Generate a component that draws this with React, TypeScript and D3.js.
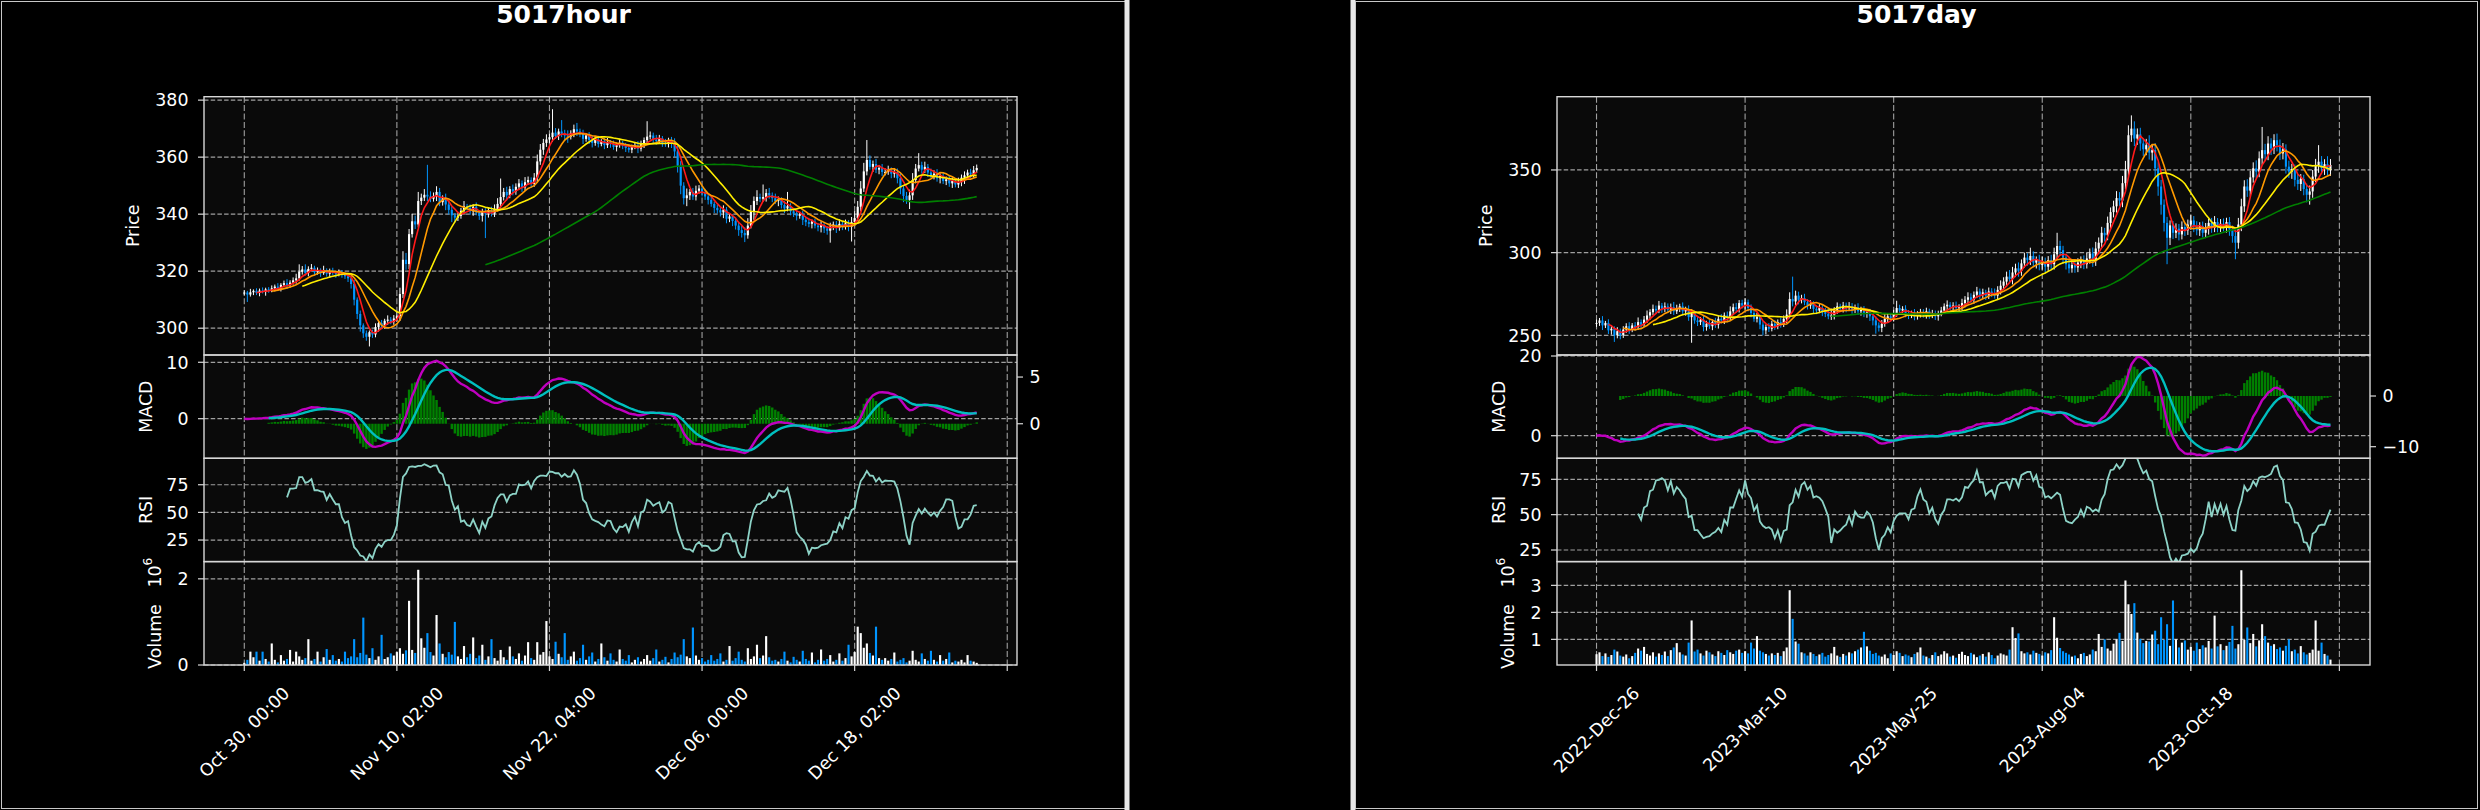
import React from 'react';
import * as d3 from 'd3';

// ---- hourly chart data (values in price units, volume in millions) ----
const hourClose = [
  312.5, 311.8, 312.6, 313.1, 312.4, 313.2, 312.8, 313.6, 313.3, 314.0,
  314.6, 313.9, 315.2, 315.8, 315.1, 316.0, 316.8, 317.5, 319.8, 320.6,
  319.4, 320.8, 321.2, 319.6, 320.2, 319.3, 320.4, 319.1, 320.0, 319.4,
  318.9, 319.6, 318.7, 318.2, 317.5, 315.5, 310.0, 305.0, 301.0, 298.2,
  297.0, 298.6, 297.8, 300.4, 301.8, 301.0, 302.6, 303.0, 302.2, 303.4,
  304.2, 312.0, 324.0, 322.5, 333.0, 337.5, 336.4, 344.6, 345.8, 346.8,
  346.2, 345.4, 346.4, 347.8, 344.2, 345.6, 343.4, 341.5, 339.6, 338.8,
  339.4, 341.2, 342.8, 342.2, 341.0, 342.6, 340.6, 339.4, 340.8, 340.2,
  341.4, 340.2, 341.8, 343.6, 346.0, 347.8, 346.6, 348.8, 348.0, 349.6,
  350.8, 349.4, 351.2, 352.0, 350.6, 352.8, 358.5, 362.6, 365.0, 366.2,
  367.0, 368.6, 367.4, 369.0, 368.2, 367.6, 367.2, 368.4, 369.8, 369.0,
  368.2, 366.4, 367.6, 366.0, 365.0, 366.2, 364.6, 365.6, 364.2, 365.2,
  364.6, 363.6, 364.2, 365.0, 364.0, 363.2, 362.6, 363.6, 364.0, 363.0,
  364.6, 366.0, 367.2, 367.6, 366.2, 365.6, 366.6, 365.0, 364.6, 365.8,
  364.8, 362.0, 357.0, 350.0, 345.6, 346.6, 347.8, 346.2, 348.2, 349.0,
  347.6, 346.2, 345.0, 343.6, 342.2, 341.4, 340.6, 341.6, 338.4, 339.2,
  337.6, 336.0, 334.4, 333.4, 332.6, 336.0, 341.0, 344.6, 346.0, 345.4,
  346.0, 347.4, 346.6, 345.6, 344.6, 345.0, 343.2, 342.0, 342.8, 341.0,
  340.2, 339.4, 340.0, 338.0, 337.2, 336.6, 337.4, 336.0, 335.4, 336.2,
  335.0, 334.2, 335.6, 336.4, 335.2, 336.6, 335.8, 336.8, 335.6, 337.2,
  338.6, 342.6, 349.0, 355.0, 359.0, 356.6, 357.6, 355.6, 356.2, 354.8,
  354.8, 355.4, 354.2, 354.8, 352.6, 349.0, 346.4, 345.0, 346.6, 352.0,
  356.0, 357.2, 355.6, 356.6, 354.6, 353.6, 354.2, 352.6, 353.4, 351.6,
  352.2, 350.8, 351.6, 350.4, 351.2, 352.8, 353.6, 354.6, 354.0, 355.4, 356.2,
];
const hourUpWick = [
  0.8, 0.6, 1.2, 0.5, 0.9, 0.7, 1.1, 0.6, 0.8, 1.0,
  0.7, 1.2, 0.6, 0.9, 1.4, 0.8, 1.0, 1.6, 2.6, 1.2,
  1.8, 0.9, 1.3, 0.7, 1.1, 0.8, 1.5, 0.6, 0.9, 1.2,
  0.7, 1.0, 0.8, 0.6, 1.1, 0.9, 1.4, 0.8, 1.2, 0.7,
  1.0, 0.6, 0.9, 1.3, 0.8, 1.1, 0.7, 1.5, 0.9, 1.2,
  1.6, 2.2, 3.0, 2.4, 1.8, 2.6, 2.0, 3.2, 1.4, 2.0,
  10.5, 1.8, 1.2, 2.0, 1.4, 1.0, 1.6, 0.9, 1.2, 0.8,
  1.4, 1.0, 1.8, 0.8, 1.2, 0.9, 1.5, 0.7, 1.1, 1.3,
  0.9, 1.2, 1.6, 2.0, 6.5, 1.4, 1.8, 1.0, 1.6, 1.2,
  1.5, 1.0, 1.8, 1.2, 0.9, 1.6, 2.4, 2.0, 1.4, 1.8,
  1.2, 8.2, 1.6, 1.0, 4.0, 1.4, 1.8, 1.0, 1.6, 2.2,
  1.0, 1.4, 0.8, 1.2, 1.6, 0.9, 1.3, 0.7, 1.1, 1.5,
  0.8, 1.2, 0.9, 1.4, 0.7, 1.0, 1.3, 0.8, 1.1, 1.6,
  1.2, 0.9, 5.4, 1.4, 1.0, 1.6, 1.2, 0.8, 1.4, 1.0,
  1.3, 1.8, 2.0, 1.6, 1.2, 2.4, 1.0, 1.4, 1.8, 1.2,
  0.9, 1.3, 1.0, 1.6, 0.8, 1.2, 1.0, 1.5, 0.9, 1.1,
  0.8, 1.2, 1.0, 1.4, 2.0, 2.6, 2.2, 1.6, 2.4, 1.2,
  4.4, 1.4, 1.8, 1.0, 1.6, 1.2, 0.9, 1.4, 5.0, 1.0,
  0.9, 1.3, 0.8, 1.2, 1.0, 1.5, 0.7, 1.1, 0.9, 1.3,
  1.0, 0.8, 1.4, 1.0, 1.2, 1.6, 0.9, 1.3, 1.1, 1.8,
  2.4, 2.0, 2.6, 3.0, 7.0, 1.6, 1.2, 1.8, 1.0, 1.4,
  1.2, 1.6, 1.0, 1.4, 1.2, 1.8, 1.0, 1.4, 2.0, 2.4,
  1.6, 4.2, 1.2, 1.8, 1.0, 1.4, 1.2, 1.6, 0.9, 1.3,
  1.0, 1.4, 1.2, 0.8, 1.6, 1.1, 1.4, 1.0, 1.3, 1.5, 1.2,
];
const hourDownWick = [
  0.9, 2.6, 0.7, 1.0, 0.8, 1.2, 0.6, 1.4, 0.9, 0.7,
  1.1, 0.8, 1.0, 0.6, 1.3, 0.9, 0.7, 1.2, 0.8, 1.0,
  0.9, 1.2, 0.7, 1.1, 0.8, 1.3, 0.6, 1.0, 1.4, 0.8,
  1.2, 0.7, 1.0, 0.9, 1.3, 1.6, 2.0, 1.8, 2.2, 1.6,
  1.4, 3.4, 1.2, 1.0, 1.6, 0.9, 1.2, 1.4, 0.8, 1.0,
  1.2, 1.6, 1.4, 2.0, 1.8, 1.2, 1.6, 1.0, 1.4, 1.2,
  1.6, 1.2, 1.0, 1.8, 1.4, 1.2, 2.0, 1.6, 2.4, 1.8,
  1.2, 1.0, 1.4, 0.9, 1.2, 1.6, 1.0, 1.4, 2.0, 8.6,
  1.4, 1.0, 1.2, 0.8, 1.6, 1.2, 1.8, 1.0, 1.4, 1.2,
  1.0, 1.6, 1.2, 0.9, 1.4, 1.0, 1.6, 1.2, 1.8, 1.4,
  1.2, 1.6, 1.0, 1.4, 1.2, 1.8, 2.2, 1.0, 1.4, 1.6,
  1.2, 1.8, 1.0, 1.4, 1.6, 1.0, 1.2, 0.8, 1.4, 1.0,
  1.3, 1.0, 1.6, 0.9, 1.2, 1.4, 1.0, 1.2, 0.8, 1.6,
  1.0, 1.4, 1.2, 1.0, 1.6, 1.2, 0.9, 1.4, 1.0, 1.2,
  1.6, 2.0, 2.4, 3.0, 2.2, 2.8, 1.6, 1.2, 1.4, 1.0,
  1.4, 1.2, 1.6, 1.0, 1.8, 1.2, 1.4, 2.0, 1.6, 1.2,
  1.8, 1.4, 2.0, 1.6, 2.4, 1.2, 1.0, 3.0, 1.4, 1.2,
  1.0, 1.6, 1.2, 1.4, 1.0, 1.8, 1.2, 1.6, 1.0, 1.4,
  1.2, 1.6, 1.0, 1.8, 1.4, 1.2, 1.6, 1.0, 1.4, 1.8,
  1.6, 1.4, 4.2, 1.2, 1.8, 1.0, 1.4, 1.2, 1.6, 5.2,
  1.4, 1.0, 1.6, 1.2, 1.4, 1.0, 1.8, 1.2, 1.6, 1.4,
  1.2, 1.0, 1.6, 1.4, 1.8, 2.0, 2.2, 1.4, 3.2, 1.6,
  1.2, 1.0, 1.4, 1.2, 1.6, 1.0, 1.4, 1.2, 1.8, 1.0,
  1.4, 1.2, 1.6, 1.0, 1.2, 1.4, 2.2, 1.0, 1.4, 1.2, 1.0,
];
const hourVolume = [
  0.05, 0.12, 0.31, 0.18, 0.31, 0.10, 0.31, 0.14, 0.08, 0.50,
  0.12, 0.06, 0.23, 0.10, 0.14, 0.35, 0.08, 0.31, 0.20, 0.12,
  0.16, 0.60, 0.10, 0.14, 0.31, 0.08, 0.18, 0.37, 0.12, 0.23,
  0.10, 0.14, 0.08, 0.31, 0.16, 0.20, 0.60, 0.18, 0.28, 1.10,
  0.24, 0.16, 0.39, 0.12, 0.20, 0.70, 0.14, 0.18, 0.27, 0.22,
  0.30, 0.39, 0.26, 0.34, 1.49, 0.35, 0.28, 2.21, 0.62, 0.40,
  0.74, 0.30, 0.22, 1.16, 0.50, 0.26, 0.18, 0.30, 0.24, 1.00,
  0.20, 0.14, 0.44, 0.18, 0.26, 0.64, 0.16, 0.22, 0.47, 0.12,
  0.20, 0.60, 0.16, 0.10, 0.35, 0.18, 0.12, 0.43, 0.20, 0.14,
  0.27, 0.10, 0.22, 0.53, 0.16, 0.12, 0.53, 0.24, 0.30, 1.02,
  0.20, 0.14, 0.54, 0.26, 0.18, 0.74, 0.12, 0.20, 0.31, 0.10,
  0.16, 0.47, 0.12, 0.20, 0.29, 0.08, 0.14, 0.50, 0.18, 0.10,
  0.27, 0.12, 0.08, 0.36, 0.14, 0.10, 0.23, 0.06, 0.12, 0.18,
  0.08, 0.14, 0.23, 0.10, 0.16, 0.36, 0.08, 0.12, 0.19, 0.06,
  0.14, 0.29, 0.18, 0.24, 0.60, 0.20, 0.16, 0.87, 0.22, 0.12,
  0.16, 0.08, 0.12, 0.23, 0.10, 0.14, 0.27, 0.08, 0.12, 0.44,
  0.10, 0.16, 0.31, 0.12, 0.08, 0.39, 0.14, 0.20, 0.47, 0.16,
  0.22, 0.67, 0.18, 0.10, 0.12, 0.08, 0.14, 0.31, 0.10, 0.06,
  0.19, 0.12, 0.08, 0.33, 0.14, 0.10, 0.29, 0.06, 0.12, 0.36,
  0.10, 0.14, 0.23, 0.08, 0.12, 0.27, 0.10, 0.16, 0.47, 0.20,
  0.30, 0.89, 0.74, 0.40, 0.50, 0.28, 0.22, 0.89, 0.16, 0.12,
  0.16, 0.10, 0.14, 0.29, 0.08, 0.12, 0.16, 0.06, 0.10, 0.33,
  0.12, 0.08, 0.27, 0.14, 0.10, 0.33, 0.12, 0.08, 0.23, 0.10,
  0.14, 0.29, 0.06, 0.10, 0.08, 0.12, 0.06, 0.23, 0.10, 0.08, 0.05,
];
const hourTickLabels = ['Oct 30, 00:00', 'Nov 10, 02:00', 'Nov 22, 04:00', 'Dec 06, 00:00', 'Dec 18, 02:00', ''];

// ---- daily chart data ----
const dayClose = [
  257.5, 259.0, 256.0, 257.5, 253.0, 254.0, 250.0, 252.5, 250.0, 253.5,
  255.5, 253.5, 256.0, 255.0, 258.0, 256.5, 259.5, 262.0, 264.0, 266.0,
  265.0, 268.0, 266.0, 267.5, 265.5, 267.0, 264.5, 266.5, 267.5, 264.5,
  265.5, 261.0, 263.5, 259.0, 258.0, 259.5, 255.0, 257.0, 255.5, 258.0,
  256.5, 260.0, 259.0, 262.0, 260.5, 264.5, 267.0, 266.0, 269.5, 268.0,
  270.0, 266.5, 263.5, 260.0, 261.0, 256.5, 253.0, 255.0, 254.0, 257.0,
  255.5, 258.0, 257.0, 260.0, 262.5, 272.0, 270.5, 274.0, 271.5, 272.5,
  270.0, 268.0, 269.0, 266.0, 265.0, 266.5, 264.0, 263.0, 261.5, 262.0,
  265.0, 267.5, 266.0, 268.0, 266.5, 267.5, 265.5, 267.0, 264.5, 265.5,
  263.0, 264.0, 261.5, 259.0, 256.0, 254.5, 257.0, 260.0, 261.5, 260.5,
  263.0, 266.5, 265.0, 266.0, 263.5, 262.0, 263.5, 261.5, 263.0, 264.0,
  262.5, 264.5, 262.0, 263.0, 261.5, 263.5, 265.0, 267.5, 268.5, 267.0,
  268.0, 266.5, 267.0, 269.5, 271.5, 273.0, 271.5, 274.5, 276.5, 274.5,
  276.0, 274.0, 276.5, 275.5, 274.0, 277.5, 280.0, 282.5, 285.5, 284.0,
  288.0, 290.5, 289.0, 293.5, 297.0, 295.5, 298.0, 294.0, 295.5, 292.5,
  294.0, 291.5, 295.5, 293.0, 299.0, 304.0, 301.5, 297.0, 293.0, 290.5,
  292.5, 291.0, 294.0, 295.5, 293.0, 296.5, 299.5, 295.0, 302.5, 306.0,
  312.0, 310.5, 318.0, 324.5, 328.0, 333.0, 331.5, 342.0, 350.5, 371.0,
  375.0, 369.0, 371.5, 366.0, 362.5, 365.0, 360.5, 362.0, 351.0, 340.0,
  329.0, 318.0, 309.0, 316.5, 312.0, 314.5, 311.0, 315.5, 313.5, 317.0,
  319.5, 316.0, 313.5, 316.0, 312.0, 314.5, 318.0, 315.0, 318.5, 315.5,
  317.5, 315.5, 318.5, 314.0, 310.0, 306.0, 317.0, 328.0, 340.0, 337.5,
  345.5, 351.0, 349.0, 357.0, 362.0, 359.5, 366.0, 363.0, 368.0, 365.0,
  360.0, 362.5, 352.0, 349.0, 350.5, 344.0, 341.5, 344.5, 338.5, 335.0,
  337.0, 346.0, 352.5, 355.0, 351.0, 353.5, 350.0, 353.0,
];
const dayUpWick = [
  2.0, 1.5, 2.6, 1.2, 2.2, 1.8, 1.4, 2.4, 1.6, 2.0,
  1.8, 2.4, 1.4, 2.0, 2.8, 1.6, 2.2, 3.0, 1.8, 2.6,
  2.0, 2.8, 1.6, 2.4, 1.8, 2.2, 3.2, 2.0, 1.6, 2.4,
  1.8, 2.6, 2.2, 1.4, 2.0, 1.6, 2.4, 1.8, 2.2, 1.6,
  2.6, 2.0, 2.8, 1.8, 2.4, 3.0, 2.2, 2.6, 1.8, 2.0,
  2.4, 1.6, 2.2, 1.8, 2.6, 1.4, 2.0, 1.6, 2.4, 1.8,
  2.2, 1.6, 2.8, 2.0, 3.2, 4.0, 13.5, 3.0, 2.4, 2.0,
  2.6, 1.8, 2.2, 1.6, 2.0, 2.4, 1.8, 2.6, 3.0, 4.2,
  2.0, 2.4, 1.6, 2.2, 1.8, 2.6, 2.0, 1.6, 2.4, 1.8,
  2.2, 1.6, 2.0, 1.4, 2.4, 1.8, 2.2, 2.6, 1.8, 2.0,
  2.4, 4.4, 2.0, 1.6, 2.2, 1.8, 1.4, 2.4, 1.6, 2.0,
  1.8, 2.2, 1.6, 2.4, 2.0, 1.4, 2.2, 1.8, 2.6, 1.6,
  2.0, 2.4, 1.8, 2.6, 2.2, 3.0, 2.4, 2.0, 2.8, 1.8,
  2.2, 1.6, 2.4, 2.0, 2.8, 2.2, 3.2, 2.6, 3.0, 4.0,
  3.4, 2.8, 3.6, 2.4, 3.0, 2.6, 5.0, 2.8, 2.2, 3.2,
  3.6, 3.0, 2.4, 3.2, 4.0, 8.0, 3.2, 2.6, 2.2, 2.8,
  2.4, 3.0, 2.6, 2.2, 2.8, 3.4, 3.0, 3.6, 4.0, 3.2,
  3.6, 3.0, 3.8, 2.8, 3.4, 4.2, 3.6, 4.4, 5.0, 6.0,
  8.0, 4.4, 3.6, 4.0, 3.2, 3.8, 6.0, 3.4, 4.2, 3.6,
  4.0, 3.2, 3.6, 3.0, 2.6, 3.2, 2.8, 3.4, 2.4, 3.0,
  3.2, 2.6, 3.0, 2.4, 2.8, 3.4, 2.6, 3.0, 3.6, 2.4,
  2.8, 3.2, 2.6, 3.0, 2.4, 3.6, 4.0, 4.6, 3.8, 4.4,
  4.0, 3.6, 4.8, 4.2, 14.0, 3.8, 4.4, 3.2, 3.6, 4.0,
  3.4, 3.8, 3.0, 3.6, 3.2, 2.8, 3.4, 3.0, 2.6, 3.2,
  3.6, 4.0, 4.2, 10.0, 3.4, 3.0, 4.8, 3.6,
];
const dayDownWick = [
  2.4, 1.8, 2.8, 1.6, 2.2, 2.6, 4.0, 1.8, 2.4, 1.6,
  2.0, 2.6, 1.6, 2.2, 1.8, 2.4, 1.4, 2.0, 2.6, 1.8,
  2.2, 1.6, 2.4, 2.0, 1.8, 2.6, 2.2, 1.6, 2.4, 2.0,
  2.6, 2.2, 15.5, 2.0, 2.4, 1.8, 2.6, 2.2, 1.6, 2.4,
  2.0, 2.4, 1.8, 2.2, 2.6, 1.6, 2.0, 2.4, 2.2, 1.8,
  2.4, 2.0, 2.6, 1.8, 2.2, 2.8, 3.0, 2.4, 2.0, 1.6,
  2.2, 1.8, 2.4, 2.0, 2.6, 2.2, 3.0, 2.4, 2.8, 2.2,
  1.8, 2.4, 2.0, 2.6, 2.2, 1.6, 2.4, 2.0, 1.8, 2.2,
  2.4, 2.0, 1.6, 2.2, 2.6, 1.8, 2.4, 2.0, 2.2, 2.6,
  2.0, 2.4, 2.8, 3.0, 5.0, 2.2, 2.6, 1.8, 2.4, 2.0,
  2.2, 1.8, 2.4, 2.0, 2.6, 2.2, 1.6, 2.4, 2.0, 2.2,
  1.8, 2.4, 2.0, 1.6, 2.2, 2.6, 2.0, 1.8, 2.4, 2.0,
  2.2, 1.8, 2.4, 2.0, 2.6, 2.2, 1.8, 2.4, 2.0, 2.6,
  2.2, 2.6, 2.0, 2.4, 1.8, 2.2, 2.8, 2.4, 3.0, 2.6,
  3.2, 2.8, 3.6, 3.0, 2.6, 3.4, 3.0, 2.8, 3.6, 3.2,
  2.8, 3.4, 3.0, 3.6, 3.2, 2.8, 3.4, 3.8, 3.2, 3.0,
  2.6, 3.2, 2.8, 3.4, 3.0, 2.6, 3.2, 3.6, 3.0, 3.4,
  3.2, 3.8, 3.0, 3.6, 3.2, 3.8, 3.4, 4.0, 3.6, 4.4,
  4.0, 4.6, 3.8, 4.4, 4.0, 3.6, 4.2, 4.8, 5.0, 5.6,
  6.0, 5.2, 16.0, 4.4, 3.8, 3.2, 3.6, 3.0, 3.4, 2.8,
  3.2, 3.6, 3.0, 3.4, 2.8, 3.2, 3.6, 3.0, 2.6, 3.2,
  3.0, 2.6, 3.4, 3.8, 4.0, 10.0, 3.6, 4.0, 3.4, 3.8,
  3.6, 3.2, 4.0, 3.4, 3.8, 4.2, 3.6, 4.0, 3.4, 3.8,
  4.0, 3.6, 4.2, 3.8, 4.4, 4.0, 3.6, 4.2, 3.8, 4.6,
  6.0, 3.8, 3.4, 4.2, 3.6, 4.0, 3.2, 3.6,
];
const dayVolume = [
  0.45, 0.52, 0.38, 0.48, 0.35, 0.42, 0.62, 0.55, 0.40, 0.36,
  0.44, 0.30, 0.38, 0.50, 0.66, 0.58, 0.72, 0.46, 0.40, 0.52,
  0.36, 0.48, 0.42, 0.55, 0.38, 0.60, 0.70, 0.86, 0.52, 0.44,
  0.40, 0.88, 1.70, 0.55, 0.62, 0.48, 0.40, 0.58, 0.52, 0.44,
  0.38, 0.56, 0.50, 0.42, 0.60, 0.52, 0.46, 0.58, 0.62, 0.50,
  0.56, 0.48, 0.88, 0.66, 1.12, 0.58, 0.52, 0.46, 0.40, 0.48,
  0.42, 0.50, 0.38, 0.56, 0.70, 2.82, 1.76, 0.92, 0.84, 0.52,
  0.48, 0.40, 0.52, 0.46, 0.38, 0.44, 0.50, 0.36, 0.42, 0.48,
  0.72, 0.40, 0.35, 0.46, 0.40, 0.52, 0.48, 0.56, 0.62, 0.70,
  1.28, 0.74, 0.58, 0.46, 0.50, 0.40, 0.36, 0.44, 0.30, 0.48,
  0.42, 0.56, 0.50, 0.38, 0.44, 0.40, 0.34, 0.46, 0.52, 0.70,
  0.40, 0.36, 0.30, 0.42, 0.52, 0.38, 0.44, 0.56, 0.48, 0.36,
  0.40, 0.32, 0.46, 0.54, 0.42, 0.38, 0.50, 0.44, 0.34, 0.40,
  0.46, 0.36, 0.52, 0.42, 0.30, 0.40, 0.48, 0.44, 0.40, 0.62,
  1.45, 1.05, 1.22, 0.56, 0.48, 0.52, 0.44, 0.58, 0.50, 0.46,
  0.40, 0.52, 0.48, 0.60, 1.82, 1.06, 0.68, 0.56, 0.50, 0.44,
  0.36, 0.40, 0.30, 0.46, 0.50, 0.38, 0.44, 0.62, 0.56, 1.20,
  0.72, 1.00, 0.66, 0.58, 0.84, 1.00, 1.24, 0.94, 3.18, 2.30,
  1.94, 2.34, 1.25, 1.02, 0.86, 0.94, 0.92, 1.18, 1.32, 0.82,
  1.82, 0.98, 1.56, 0.76, 2.44, 1.00, 0.70, 0.88, 0.96, 0.62,
  0.72, 0.58, 0.88, 0.64, 0.78, 0.70, 0.94, 0.66, 1.88, 0.74,
  0.82, 0.60, 0.76, 0.90, 1.50, 0.66, 0.82, 3.56, 0.98, 1.44,
  0.86, 1.20, 0.74, 0.96, 1.56, 1.12, 0.88, 0.76, 0.82, 0.64,
  0.70, 0.58, 0.76, 1.00, 0.56, 0.62, 0.48, 0.75, 0.52, 0.44,
  0.50, 0.62, 1.70, 0.58, 0.88, 0.46, 0.40, 0.25,
];
const dayTickLabels = ['2022-Dec-26', '2023-Mar-10', '2023-May-25', '2023-Aug-04', '2023-Oct-18', ''];

const mavWindows = [5, 10, 20, 80];
const mavColors = ['#ff1a1a', '#ff9900', '#ffee00', '#008000'];

// axis settings
const hourAxes = {
  title: '5017hour', frame: [3, 1124], spine: [204, 1017], xDomain: [-13.2, 253.2],
  priceDomain: [290.6, 381.2], priceTicks: [300, 320, 340, 360, 380],
  macdDomain: [-7.02, 11.29], macdTicks: [0, 10],
  histDomain: [-3.7, 7.36], histTicks: [0, 5],
  rsiDomain: [5.5, 98.9], rsiTicks: [25, 50, 75],
  volDomain: [0, 2.4], volTicks: [0, 2],
};
const dayAxes = {
  title: '5017day', frame: [1356, 2477], spine: [1557, 2370], xDomain: [-13.3, 260.3],
  priceDomain: [238.1, 394.3], priceTicks: [250, 300, 350],
  macdDomain: [-5.67, 20.25], macdTicks: [0, 20],
  histDomain: [-12.29, 8.09], histTicks: [-10, 0],
  rsiDomain: [16.8, 89.85], rsiTicks: [25, 50, 75],
  volDomain: [0.05, 3.88], volTicks: [1, 2, 3],
};

const PANELS = { top: 96.7, price: 355, macd: 458.3, rsi: 561.6, bottom: 665 };
const UP = '#ffffff';
const DOWN = '#0095ff';
const GRID = '#a0a0a0';
const SPINE = '#d8d8d8';
const FONT = 'DejaVu Sans';
const FS = 17.4;

function sma(v: number[], n: number) {
  return v.map((_, i) => (i < n - 1 ? null : (d3.mean(v.slice(i - n + 1, i + 1)) as number)));
}
function ema(v: number[], span: number) {
  const a = 2 / (span + 1);
  const out: number[] = [];
  v.forEach((x, i) => out.push(i === 0 ? x : a * x + (1 - a) * out[i - 1]));
  return out;
}
function rsi(v: number[], n: number) {
  const out: (number | null)[] = v.map(() => null);
  for (let i = n; i < v.length; i++) {
    let g = 0, l = 0;
    for (let k = i - n + 1; k <= i; k++) {
      const d = v[k] - v[k - 1];
      if (d > 0) g += d; else l -= d;
    }
    out[i] = l === 0 ? 100 : 100 - 100 / (1 + g / l);
  }
  return out;
}

let measureCtx: CanvasRenderingContext2D | null = null;
function textWidth(s: string) {
  if (!measureCtx) measureCtx = document.createElement('canvas').getContext('2d');
  if (!measureCtx) return s.length * FS * 0.55;
  measureCtx.font = `${FS}px "${FONT}"`;
  return measureCtx.measureText(s).width;
}

type Axes = typeof hourAxes;

function Figure({ ax, close, upWick, downWick, volume, labels, id }: {
  ax: Axes; close: number[]; upWick: number[]; downWick: number[]; volume: number[]; labels: string[]; id: string;
}) {
  const [x0, x1] = ax.spine;
  const x = d3.scaleLinear().domain(ax.xDomain).range([x0, x1]);
  const step = x(1) - x(0);
  const yP = d3.scaleLinear().domain(ax.priceDomain).range([PANELS.price, PANELS.top]);
  const yM = d3.scaleLinear().domain(ax.macdDomain).range([PANELS.macd, PANELS.price]);
  const yH = d3.scaleLinear().domain(ax.histDomain).range([PANELS.macd, PANELS.price]);
  const yR = d3.scaleLinear().domain(ax.rsiDomain).range([PANELS.rsi, PANELS.macd]);
  const yV = d3.scaleLinear().domain(ax.volDomain).range([PANELS.bottom, PANELS.rsi]);

  const open = close.map((c, i) => (i === 0 ? c : close[i - 1]));
  const mavs = mavWindows.map((w) => sma(close, w));
  const macd = d3.zip(ema(close, 12), ema(close, 26)).map(([a, b]) => a - b);
  const signal = ema(macd, 9);
  const hist = macd.map((m, i) => m - signal[i]);
  const rsiVals = rsi(close, 14);

  const line = (y: d3.ScaleLinear<number, number>) =>
    d3.line<number | null>().defined((d) => d != null).x((_, i) => x(i)).y((d) => y(d as number));
  const sigLine = d3.line<number>().defined((_, i) => i >= 8).x((_, i) => x(i)).y((d) => yM(d));

  const xTicks = labels.map((_, k) => k * 50);
  const panelRows: [number, number][] = [
    [PANELS.top, PANELS.price], [PANELS.price, PANELS.macd], [PANELS.macd, PANELS.rsi], [PANELS.rsi, PANELS.bottom],
  ];
  const hGrid = (ticks: number[], y: d3.ScaleLinear<number, number>) =>
    ticks.map((t) => (
      <line key={'g' + t} x1={x0} x2={x1} y1={y(t)} y2={y(t)} stroke={GRID} strokeWidth={1.2} strokeDasharray="4.5,2.2" />
    ));
  const leftTicks = (ticks: number[], y: d3.ScaleLinear<number, number>) =>
    ticks.map((t) => (
      <g key={'t' + t}>
        <line x1={x0 - 6} x2={x0} y1={y(t)} y2={y(t)} stroke={SPINE} strokeWidth={1.2} />
        <text x={x0 - 15.5} y={y(t)} dy="0.36em" textAnchor="end" fill="#ffffff" fontSize={FS} fontFamily={FONT}>
          {d3.format('d')(t)}
        </text>
      </g>
    ));
  const fmtMinus = (t: number) => (t < 0 ? '\u2212' + Math.abs(t) : String(t));
  const bodyW = step * 0.7;

  return (
    <g>
      <rect x={ax.frame[0]} y={2} width={ax.frame[1] - ax.frame[0]} height={805} fill="#000000" />
      <text x={(ax.frame[0] + ax.frame[1]) / 2} y={22.5} textAnchor="middle" fill="#ffffff" fontSize={25}
        fontWeight="bold" fontFamily={FONT}>{ax.title}</text>
      <defs>
        {panelRows.map(([a, b], k) => (
          <clipPath key={k} id={`${id}-clip${k}`}><rect x={x0} y={a} width={x1 - x0} height={b - a} /></clipPath>
        ))}
      </defs>
      {panelRows.map(([a, b], k) => (
        <rect key={'bg' + k} x={x0} y={a} width={x1 - x0} height={b - a} fill="#0a0a0a" />
      ))}
      {/* vertical grid through every panel */}
      {xTicks.map((t) => (
        <line key={'vx' + t} x1={x(t)} x2={x(t)} y1={PANELS.top} y2={PANELS.bottom} stroke={GRID}
          strokeWidth={1.1} strokeDasharray="6,2.4" />
      ))}
      {hGrid(ax.priceTicks, yP)}
      {hGrid(ax.macdTicks, yM)}
      {hGrid(ax.rsiTicks, yR)}
      {hGrid(ax.volTicks, yV)}

      {/* price panel */}
      <g clipPath={`url(#${id}-clip0)`}>
        {close.map((c, i) => {
          const o = open[i];
          const up = c >= o;
          const hi = Math.max(o, c) + upWick[i];
          const lo = Math.min(o, c) - downWick[i];
          const top = yP(Math.max(o, c));
          const h = Math.max(1, yP(Math.min(o, c)) - top);
          const col = up ? UP : DOWN;
          return (
            <g key={i}>
              <line x1={x(i)} x2={x(i)} y1={yP(hi)} y2={yP(lo)} stroke={col} strokeWidth={1} />
              <rect x={x(i) - bodyW / 2} y={top} width={bodyW} height={h} fill={col} />
            </g>
          );
        })}
        {mavs.map((m, k) => (
          <path key={'m' + k} d={line(yP)(m) || ''} fill="none" stroke={mavColors[k]} strokeWidth={1.6} />
        ))}
      </g>

      {/* MACD panel */}
      <g clipPath={`url(#${id}-clip1)`}>
        {hist.map((h, i) => (i < 8 ? null : (
          <rect key={'h' + i} x={x(i) - step * 0.4} width={step * 0.8} y={Math.min(yH(h), yH(0))}
            height={Math.abs(yH(h) - yH(0))} fill="#008000" />
        )))}
        <path d={line(yM)(macd) || ''} fill="none" stroke="#bf00bf" strokeWidth={2.4} />
        <path d={sigLine(signal) || ''} fill="none" stroke="#00bfbf" strokeWidth={2.4} />
      </g>

      {/* RSI panel */}
      <g clipPath={`url(#${id}-clip2)`}>
        <path d={line(yR)(rsiVals) || ''} fill="none" stroke="#8dd3c7" strokeWidth={1.8} />
      </g>

      {/* volume panel */}
      <g clipPath={`url(#${id}-clip3)`}>
        {volume.map((v, i) => (
          <rect key={'v' + i} x={x(i) - bodyW / 2} width={bodyW} y={yV(v)} height={yV(ax.volDomain[0]) - yV(v)}
            fill={close[i] >= open[i] ? UP : DOWN} />
        ))}
      </g>

      {/* spines */}
      {panelRows.map(([a, b], k) => (
        <rect key={'sp' + k} x={x0} y={a} width={x1 - x0} height={b - a} fill="none" stroke={SPINE} strokeWidth={1.4} />
      ))}

      {leftTicks(ax.priceTicks, yP)}
      {leftTicks(ax.macdTicks, yM)}
      {leftTicks(ax.rsiTicks, yR)}
      {leftTicks(ax.volTicks, yV)}
      {ax.histTicks.map((t) => (
        <g key={'rt' + t}>
          <line x1={x1} x2={x1 + 6} y1={yH(t)} y2={yH(t)} stroke={SPINE} strokeWidth={1.2} />
          <text x={x1 + 12.5} y={yH(t)} dy="0.36em" fill="#ffffff" fontSize={FS} fontFamily={FONT}>{fmtMinus(t)}</text>
        </g>
      ))}

      {/* x ticks */}
      {xTicks.map((t, k) => {
        const lab = labels[k];
        const L = textWidth(lab);
        const bb = (L + FS * 1.15) / Math.SQRT2;
        return (
          <g key={'xt' + t}>
            <line x1={x(t)} x2={x(t)} y1={PANELS.bottom} y2={PANELS.bottom + 6} stroke={SPINE} strokeWidth={1.2} />
            {lab && (
              <text transform={`translate(${x(t)},${683 + bb / 2}) rotate(-45)`} textAnchor="middle"
                dominantBaseline="central" fill="#ffffff" fontSize={FS} fontFamily={FONT}>{lab}</text>
            )}
          </g>
        );
      })}

      {/* y labels */}
      {[
        ['Price', -71, (PANELS.top + PANELS.price) / 2],
        ['MACD', -58, (PANELS.price + PANELS.macd) / 2],
        ['RSI', -58.5, (PANELS.macd + PANELS.rsi) / 2],
      ].map(([s, dx, cy]) => (
        <text key={s as string} transform={`translate(${x0 + (dx as number)},${cy}) rotate(-90)`} textAnchor="middle"
          dominantBaseline="central" fill="#ffffff" fontSize={FS} fontFamily={FONT}>{s}</text>
      ))}
      <text transform={`translate(${x0 - 49.5},${(PANELS.rsi + PANELS.bottom) / 2}) rotate(-90)`} textAnchor="middle"
        dominantBaseline="central" fill="#ffffff" fontSize={FS} fontFamily={FONT}>
        {'Volume\u00a0\u00a0 10'}<tspan fontSize={12.2} dy="-0.5em">6</tspan>
      </text>
    </g>
  );
}

export default function App() {
  return (
    <svg width={2480} height={810} style={{ position: 'fixed', left: 0, top: 0 }}>
      <rect x={0} y={0} width={2480} height={810} fill="#000000" />
      <rect x={1.5} y={1.5} width={1124} height={807} fill="none" stroke="#c8c8c8" strokeWidth={1} />
      <rect x={1124.5} y={0} width={5} height={810} fill="#e8e8e8" />
      <rect x={1350.5} y={0} width={5} height={810} fill="#e8e8e8" />
      <Figure id="h" ax={hourAxes} close={hourClose} upWick={hourUpWick} downWick={hourDownWick} volume={hourVolume}
        labels={hourTickLabels} />
      <Figure id="d" ax={dayAxes} close={dayClose} upWick={dayUpWick} downWick={dayDownWick} volume={dayVolume}
        labels={dayTickLabels} />
      <rect x={1355.5} y={1.5} width={1122} height={807} fill="none" stroke="#c8c8c8" strokeWidth={1} />
    </svg>
  );
}
